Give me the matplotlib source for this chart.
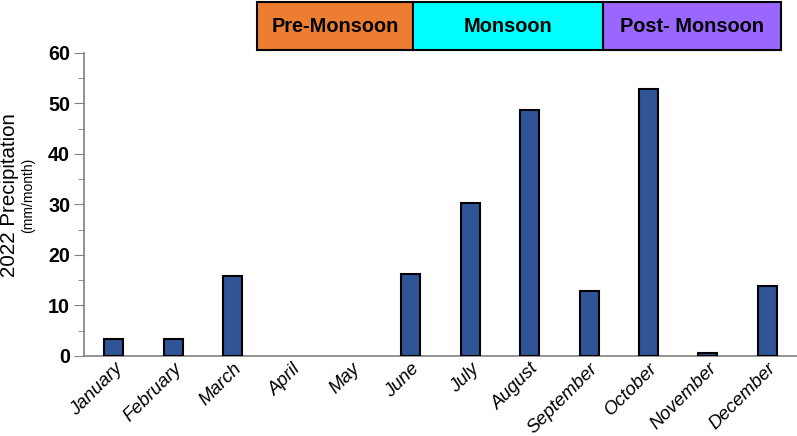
import matplotlib.pyplot as plt
from matplotlib.patches import Rectangle
from matplotlib.ticker import MultipleLocator
import matplotlib.transforms as mtransforms

plt.rcParams["font.family"] = ["Liberation Sans", "DejaVu Sans"]

months = ["January", "February", "March", "April", "May", "June", "July",
          "August", "September", "October", "November", "December"]
precip = [3.3, 3.4, 15.9, 0, 0, 16.2, 30.3, 48.8, 12.8, 52.8, 0.6, 13.8]

seasons = ["Pre-Monsoon", "Monsoon", "Post- Monsoon"]
season_colors = ["#ED7D31", "#00FFFF", "#9966FF"]
# season spans in category units
season_edges = [2.41, 5.04, 8.23, 11.23]

fig = plt.figure(figsize=(7.97, 4.36), dpi=100)
ax = fig.add_axes([0.1054, 0.1835, 0.8946, 0.695])

x = range(len(months))
# zero-valued months draw nothing (no outline)
edge_w = [1.5 if v > 0 else 0 for v in precip]
ax.bar(x, precip, width=0.32, color="#2F5597", edgecolor="black", linewidth=edge_w, zorder=3)

ax.set_xlim(-0.5, 11.5)
ax.set_ylim(0, 60)
ax.yaxis.set_major_locator(MultipleLocator(10))
ax.yaxis.set_minor_locator(MultipleLocator(5))
ax.set_xticks(list(x))
ax.set_xticklabels(months, rotation=45, ha="right", rotation_mode="anchor",
                   fontsize=13.5, style="italic")
ax.tick_params(axis="x", length=0, pad=3)
ax.tick_params(axis="y", which="major", length=7, color="#808080", labelsize=14.2, pad=3)
ax.tick_params(axis="y", which="minor", length=4, color="#808080")
for lbl in ax.get_yticklabels():
    lbl.set_fontweight("bold")

for s in ["top", "right"]:
    ax.spines[s].set_visible(False)
for s in ["left", "bottom"]:
    ax.spines[s].set_color("#808080")
    ax.spines[s].set_linewidth(1.2)

fig.text(0.012, 0.553, "2022 Precipitation", rotation=90, ha="center", va="center", fontsize=14.8)
fig.text(0.035, 0.553, "(mm/month)", rotation=90, ha="center", va="center", fontsize=10)

trans = mtransforms.blended_transform_factory(ax.transData, fig.transFigure)
y0, y1 = 1 - 50 / 436, 1 - 2 / 436
for i, (name, col) in enumerate(zip(seasons, season_colors)):
    left, right = season_edges[i], season_edges[i + 1]
    rect = Rectangle((left, y0), right - left, y1 - y0, transform=trans,
                     facecolor=col, edgecolor="black", linewidth=1.5, clip_on=False)
    fig.add_artist(rect)
    fig.text((left + right) / 2, (y0 + y1) / 2, name, transform=trans,
             ha="center", va="center", fontsize=14.4, fontweight="bold")

fig.savefig("out.png", dpi=100)
